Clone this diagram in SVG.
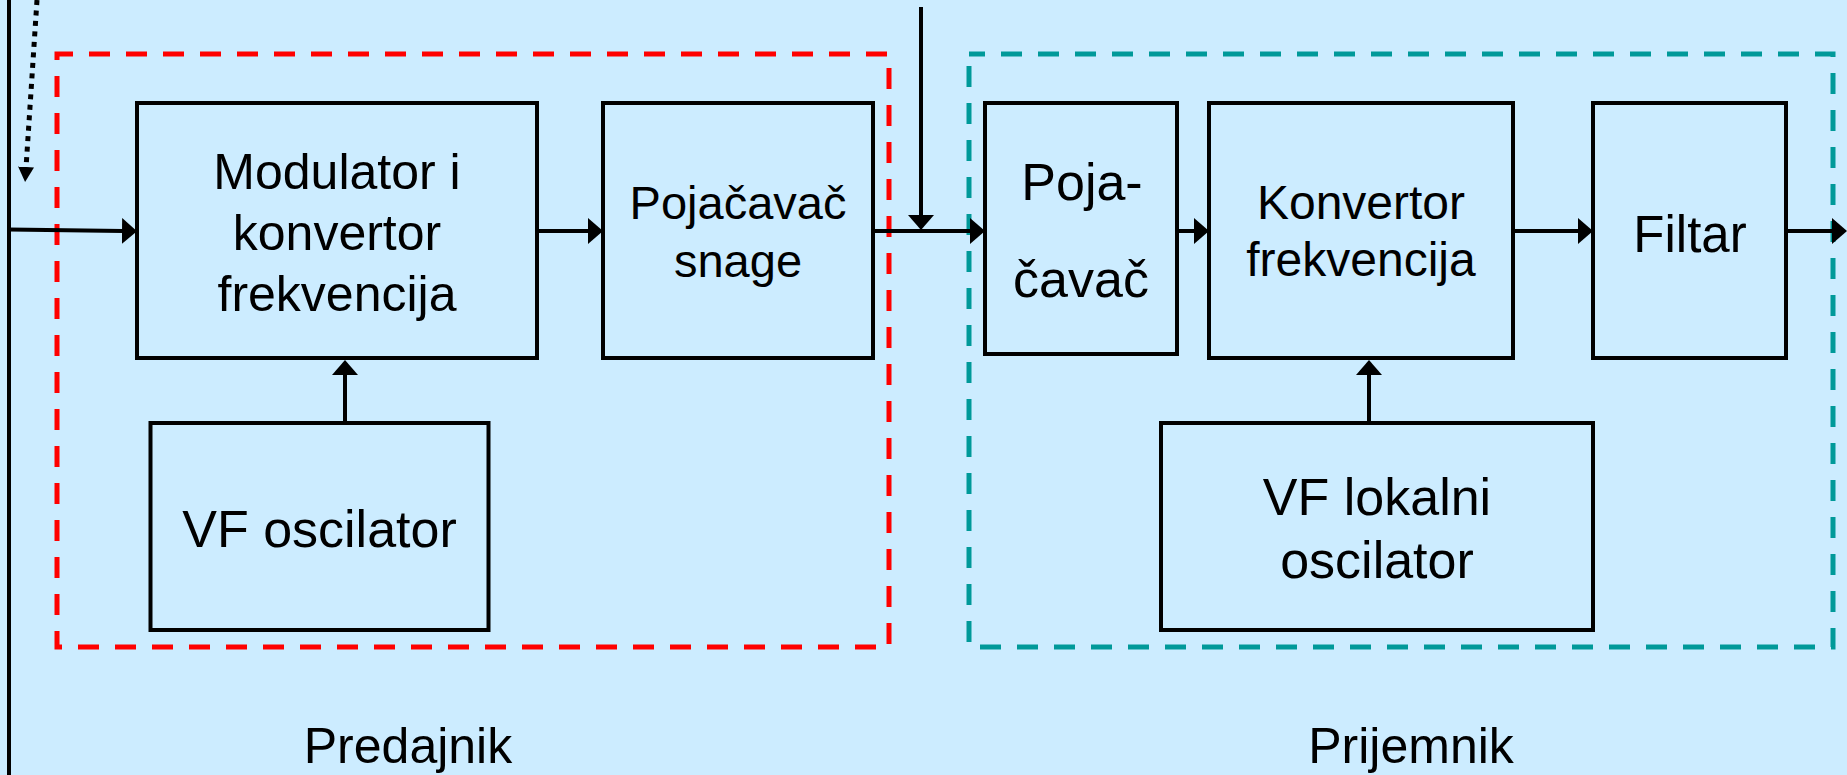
<svg xmlns="http://www.w3.org/2000/svg" width="1847" height="775" viewBox="0 0 1847 775">
  <style>
    .box { fill: none; stroke: #000; stroke-width: 4; }
    .frame { fill: none; stroke-width: 5; stroke-dasharray: 21 16; stroke-dashoffset: 5; }
    .red { stroke: #FF0000; }
    .teal { stroke: #009999; }
    .wire { fill: none; stroke: #000; stroke-width: 4; }
    .dotted { fill: none; stroke: #000; stroke-width: 5; stroke-dasharray: 5 5.5; }
    .lbl { font-family: "Liberation Sans", Arial, sans-serif; fill: #000; text-anchor: middle; }
  </style>
  <defs>
    <marker id="arrow" markerUnits="userSpaceOnUse" viewBox="0 0 15 26" markerWidth="15" markerHeight="26" refX="1" refY="13" orient="auto">
      <path d="M0,0 L15,13 L0,26 Z" fill="#000"/>
    </marker>
    <marker id="arrowSmall" markerUnits="userSpaceOnUse" viewBox="0 0 15 16" markerWidth="15" markerHeight="16" refX="1" refY="8" orient="auto">
      <path d="M0,0 L15,8 L0,16 Z" fill="#000"/>
    </marker>
  </defs>

  <rect x="0" y="0" width="1847" height="775" fill="#CCECFF"/>

  <!-- dashed frames around transmitter and receiver -->
  <g id="transmitter-frame">
    <rect class="frame red" x="57" y="54" width="832" height="593"/>
  </g>
  <g id="receiver-frame">
    <rect class="frame teal" x="969" y="54" width="864" height="593"/>
  </g>

  <!-- connectors -->
  <g id="connectors">
    <line class="wire" x1="9" y1="0" x2="9" y2="775"/>
    <line class="dotted" x1="37" y1="0" x2="26" y2="168" marker-end="url(#arrowSmall)"/>
    <path class="wire" d="M9,229.5 L123,231" marker-end="url(#arrow)"/>
    <line class="wire" x1="537" y1="231" x2="589" y2="231" marker-end="url(#arrow)"/>
    <line class="wire" x1="345" y1="423" x2="345" y2="374" marker-end="url(#arrow)"/>
    <line class="wire" x1="873" y1="231" x2="971" y2="231" marker-end="url(#arrow)"/>
    <line class="wire" x1="921" y1="7" x2="921" y2="216" marker-end="url(#arrow)"/>
    <line class="wire" x1="1177" y1="231" x2="1195" y2="231" marker-end="url(#arrow)"/>
    <line class="wire" x1="1513" y1="231" x2="1579" y2="231" marker-end="url(#arrow)"/>
    <line class="wire" x1="1786" y1="231" x2="1833" y2="231" marker-end="url(#arrow)"/>
    <line class="wire" x1="1369" y1="423" x2="1369" y2="374" marker-end="url(#arrow)"/>
  </g>

  <!-- transmitter blocks -->
  <g id="modulator">
    <rect class="box" x="137" y="103" width="400" height="255"/>
    <text class="lbl" font-size="50" x="337" y="189">Modulator i</text>
    <text class="lbl" font-size="50" x="337" y="250">konvertor</text>
    <text class="lbl" font-size="50" x="337" y="311">frekvencija</text>
  </g>
  <g id="power-amp">
    <rect class="box" x="603" y="103" width="270" height="255"/>
    <text class="lbl" font-size="47" x="738" y="219">Pojačavač</text>
    <text class="lbl" font-size="47" x="738" y="277">snage</text>
  </g>
  <g id="vf-oscillator">
    <rect class="box" x="150.5" y="423" width="338" height="207"/>
    <text class="lbl" font-size="52" x="319.5" y="547">VF oscilator</text>
  </g>

  <!-- receiver blocks -->
  <g id="rf-amp">
    <rect class="box" x="985" y="103" width="192" height="251"/>
    <text class="lbl" font-size="52" x="1082" y="200">Poja-</text>
    <text class="lbl" font-size="52" x="1081" y="297">čavač</text>
  </g>
  <g id="freq-converter">
    <rect class="box" x="1209" y="103" width="304" height="255"/>
    <text class="lbl" font-size="48" x="1361" y="219">Konvertor</text>
    <text class="lbl" font-size="48" x="1361" y="276">frekvencija</text>
  </g>
  <g id="filter">
    <rect class="box" x="1593" y="103" width="193" height="255"/>
    <text class="lbl" font-size="51" x="1690" y="252">Filtar</text>
  </g>
  <g id="local-oscillator">
    <rect class="box" x="1161" y="423" width="432" height="207"/>
    <text class="lbl" font-size="52" x="1377" y="515">VF lokalni</text>
    <text class="lbl" font-size="52" x="1377" y="578">oscilator</text>
  </g>

  <!-- section captions -->
  <g id="captions">
    <text class="lbl" font-size="50" x="408" y="763">Predajnik</text>
    <text class="lbl" font-size="50" x="1411" y="763">Prijemnik</text>
  </g>
</svg>
